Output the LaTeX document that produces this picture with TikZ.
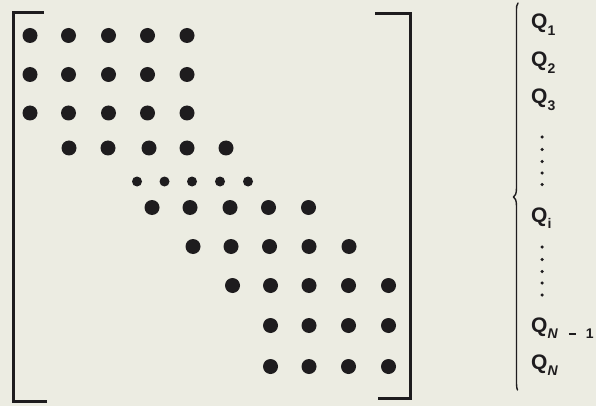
\documentclass[tikz,border=0pt]{standalone}
\usepackage{fontspec}
\setmainfont{Liberation Sans}
\definecolor{paper}{RGB}{236,236,226}
\definecolor{ink}{RGB}{30,28,30}
\newcommand{\sbs}[1]{\raisebox{-6.5pt}{\fontsize{14}{15}\selectfont #1}}
\begin{document}
\begin{tikzpicture}[x=1pt,y=-1pt,
  bigdot/.style={circle,fill=ink,inner sep=0pt,minimum size=15pt},
  smalldot/.style={circle,fill=ink,inner sep=0pt,minimum size=10pt},
  vdot/.style={circle,fill=ink,inner sep=0pt,minimum size=3.5pt},
  bracket/.style={draw=ink,line width=3pt},
  lab/.style={anchor=base west,inner sep=0pt,text=ink,font=\fontsize{21}{23}\selectfont\bfseries}]
\fill[paper] (0,0) rectangle (596,406);
\useasboundingbox (0,0) rectangle (596,406);
% brackets
\draw[bracket] (47,401) -- (13,401) -- (13,13) -- (44,13);
\draw[bracket] (375,14) -- (410,14) -- (410,398) -- (378,398);
% dots
\foreach \r/\y in {1/35.5,2/74.5,3/113}{
  \foreach \c/\x in {1/30,2/68.5,3/108.5,4/147.5,5/187}{
    \node[bigdot] (d\r-\c) at (\x,\y) {};}}
\foreach \c/\x in {1/69,2/108,3/149,4/187,5/226}{\node[bigdot] (d4-\c) at (\x,148) {};}
\foreach \c/\x in {1/137,2/164.5,3/192,4/220,5/248}{\node[smalldot] (d5-\c) at (\x,181.5) {};}
\foreach \c/\x in {1/152,2/190,3/230,4/268.5,5/308.5}{\node[bigdot] (d6-\c) at (\x,207.5) {};}
\foreach \c/\x in {1/193,2/231,3/269.5,4/309,5/349}{\node[bigdot] (d7-\c) at (\x,246.5) {};}
\foreach \c/\x in {1/232.5,2/270.5,3/309,4/348.5,5/388.5}{\node[bigdot] (d8-\c) at (\x,285.5) {};}
\foreach \r/\y in {9/325.5,10/366.5}{
  \foreach \c/\x in {1/270.5,2/309,3/348.5,4/388.5}{
    \node[bigdot] (d\r-\c) at (\x,\y) {};}}
% brace
\draw[ink,line width=1.4pt,line cap=round]
  (518,3) .. controls (516.5,4.5) and (516.5,7) .. (516.5,12)
  -- (516.5,188) .. controls (516.5,194) and (515,196) .. (513.5,197)
  .. controls (515,198) and (516.5,200) .. (516.5,206)
  -- (516.5,384) .. controls (516.5,387) and (517,389) .. (517.5,390);
% labels
\node[lab] (q1) at (531,29) {Q\sbs{1}};
\node[lab] (q2) at (531,67) {Q\sbs{2}};
\node[lab] (q3) at (531,104) {Q\sbs{3}};
\foreach \i/\y in {1/137,2/149.5,3/161.5,4/173,5/184.5}{\node[vdot] (va\i) at (542,\y) {};}
\node[lab] (qi) at (531,222) {Q\sbs{i}};
\foreach \i/\y in {1/247,2/259.5,3/271.5,4/283,5/295}{\node[vdot] (vb\i) at (542,\y) {};}
\node[lab] (qn1) at (531,332) {Q\sbs{\textit{N}\hspace{11pt}\rule[3.6pt]{7pt}{1.6pt}\hspace{10pt}1}};
\node[lab] (qn) at (531,369) {Q\sbs{\textit{N}}};
\end{tikzpicture}
\end{document}
